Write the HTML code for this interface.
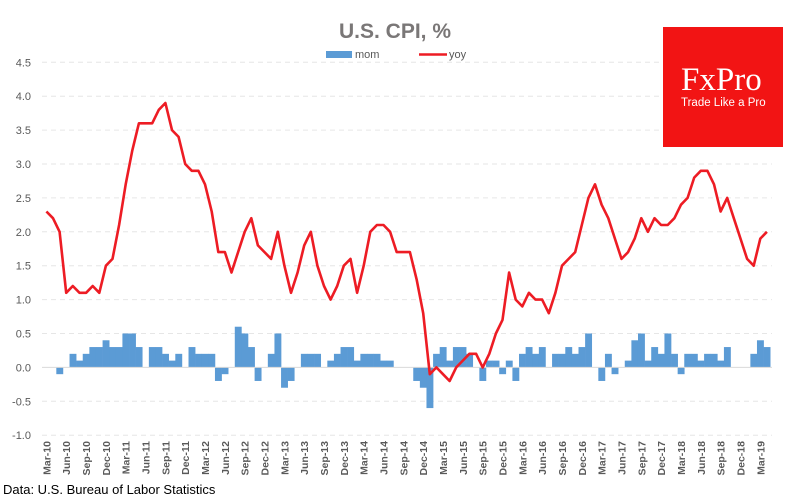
<!DOCTYPE html>
<html>
<head>
<meta charset="utf-8">
<style>
html,body{margin:0;padding:0;background:#fff;}
body{width:801px;height:499px;overflow:hidden;position:relative;font-family:"Liberation Sans",sans-serif;}
svg{position:absolute;left:0;top:0;}
</style>
</head>
<body>
<svg id="chart" width="801" height="499">
  <text x="395" y="38" text-anchor="middle" font-family="Liberation Sans, sans-serif" font-weight="bold" font-size="21" fill="#7a7777">U.S. CPI, %</text>
  <g>
    <rect x="326" y="51" width="26" height="7" fill="#5b9bd5"></rect>
    <text x="355" y="58" font-size="11" fill="#595959">mom</text>
    <line x1="419" y1="54.5" x2="447" y2="54.5" stroke="#ed1c24" stroke-width="2.5"></line>
    <text x="449" y="58" font-size="11" fill="#595959">yoy</text>
  </g>
  <g id="grid"></g>
  <g id="bars"></g>
  <g id="zero"></g>
  <g id="line"></g>
  <g id="xlabels"></g>
  <g>
    <rect x="663" y="27" width="120" height="120" fill="#f21414"></rect>
    <text x="681" y="90" font-family="Liberation Serif, serif" font-size="33" fill="#fff">FxPro</text>
    <text x="681" y="106" font-family="Liberation Sans, sans-serif" font-size="11.5" fill="#fff">Trade Like a Pro</text>
  </g>
  <text x="3" y="494" font-size="13" fill="#000">Data: U.S. Bureau of Labor Statistics</text>
</svg>
<script>
const yTicks = [4.5, 4.0, 3.5, 3.0, 2.5, 2.0, 1.5, 1.0, 0.5, 0.0, -0.5, -1.0];
const years = [10,11,12,13,14,15,16,17,18,19];
const monthNames = ["Mar","Jun","Sep","Dec"];
const mom = [0,0,-0.1,0,0.2,0.1,0.2,0.3,0.3,0.4,0.3,0.3,0.5,0.5,0.3,0,0.3,0.3,0.2,0.1,0.2,0,0.3,0.2,0.2,0.2,-0.2,-0.1,0,0.6,0.5,0.3,-0.2,0,0.2,0.5,-0.3,-0.2,0,0.2,0.2,0.2,0,0.1,0.2,0.3,0.3,0.1,0.2,0.2,0.2,0.1,0.1,0,0,0,-0.2,-0.3,-0.6,0.2,0.3,0.1,0.3,0.3,0.2,0,-0.2,0.1,0.1,-0.1,0.1,-0.2,0.2,0.3,0.2,0.3,0,0.2,0.2,0.3,0.2,0.3,0.5,0,-0.2,0.2,-0.1,0,0.1,0.4,0.5,0.1,0.3,0.2,0.5,0.2,-0.1,0.2,0.2,0.1,0.2,0.2,0.1,0.3,0,0,0,0.2,0.4,0.3];
const yoy = [2.3,2.2,2.0,1.1,1.2,1.1,1.1,1.2,1.1,1.5,1.6,2.1,2.7,3.2,3.6,3.6,3.6,3.8,3.9,3.5,3.4,3.0,2.9,2.9,2.7,2.3,1.7,1.7,1.4,1.7,2.0,2.2,1.8,1.7,1.6,2.0,1.5,1.1,1.4,1.8,2.0,1.5,1.2,1.0,1.2,1.5,1.6,1.1,1.5,2.0,2.1,2.1,2.0,1.7,1.7,1.7,1.3,0.8,-0.1,0.0,-0.1,-0.2,0.0,0.1,0.2,0.2,0.0,0.2,0.5,0.7,1.4,1.0,0.9,1.1,1.0,1.0,0.8,1.1,1.5,1.6,1.7,2.1,2.5,2.7,2.4,2.2,1.9,1.6,1.7,1.9,2.2,2.0,2.2,2.1,2.1,2.2,2.4,2.5,2.8,2.9,2.9,2.7,2.3,2.5,2.2,1.9,1.6,1.5,1.9,2.0];

const NS = "http://www.w3.org/2000/svg";
const X0 = 46.4, STEP = 6.61;
const Y0 = 367.4, UNIT = 67.8;
function x(i){ return X0 + STEP*i; }
function y(v){ return Y0 - v*UNIT; }
function mk(tag, attrs, parent){
  const e = document.createElementNS(NS, tag);
  for (const k in attrs) e.setAttribute(k, attrs[k]);
  parent.appendChild(e);
  return e;
}
const grid = document.getElementById('grid');
yTicks.forEach(function(v){
  if (v !== 0) {
    const l = mk('line', {x1: 42, x2: 772, y1: y(v), y2: y(v), stroke: '#e6e6e6', 'stroke-width': 1, 'stroke-dasharray': '5,4'}, grid);
    
    
  }
  const t = mk('text', {x: 31, y: y(v) + 4, 'text-anchor': 'end', 'font-size': 11, fill: '#595959'}, grid);
  t.textContent = v.toFixed(1);
  
  
});
const bars = document.getElementById('bars');
mom.forEach(function(v, i){
  if (v === 0) return;
  const top = Math.min(y(v), y(0));
  const h = Math.abs(y(v) - y(0));
  const r = mk('rect', {x: x(i) - STEP/2, y: top, width: STEP + 0.3, height: h, fill: '#5b9bd5'}, bars);
  
  
});
const zl = mk('line', {x1: 42, x2: 772, y1: y(0), y2: y(0), stroke: '#d9d9d9', 'stroke-width': 1}, document.getElementById('zero'));


const pts = yoy.map(function(v, i){ return x(i).toFixed(1) + ',' + y(v).toFixed(1); }).join(' ');
const pl = mk('polyline', {points: pts, fill: 'none', stroke: '#ed1c24', 'stroke-width': 2.6, 'stroke-linejoin': 'round'}, document.getElementById('line'));


const xl = document.getElementById('xlabels');
let idx = 0;
years.forEach(function(yr){
  monthNames.forEach(function(m){
    if (idx < yoy.length - 1) {
      const px = x(idx) + 4;
      const t = mk('text', {x: px, y: 441, 'text-anchor': 'end', 'font-size': 10.5, 'font-weight': 'bold', fill: '#595959', transform: 'rotate(-90 ' + px + ' 441)'}, xl);
      t.textContent = m + '-' + yr;
      
      
    }
    idx += 3;
  });
});
</script>
</body>
</html>
